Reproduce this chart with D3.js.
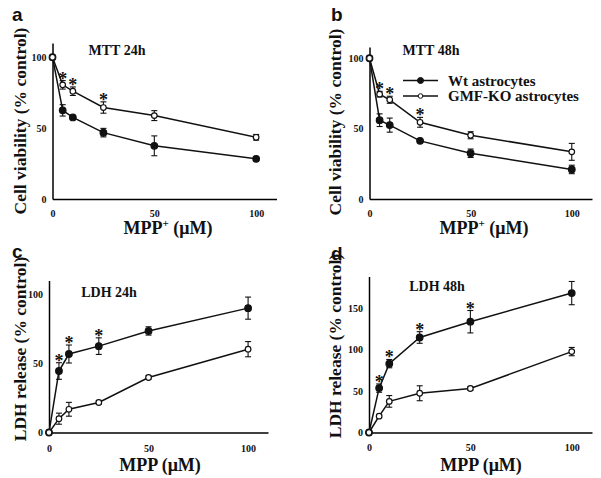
<!DOCTYPE html>
<html>
<head>
<meta charset="utf-8">
<script src="https://cdn.jsdelivr.net/npm/d3@7"></script>
<style>
  html, body { margin: 0; padding: 0; background: #fff; }
  svg { display: block; }
</style>
</head>
<body>
<svg id="chart" width="601" height="478"></svg>
<script>
// ---------- DATA ----------
const doses = [0, 5, 10, 25, 50, 100];
const xTicks = [0, 50, 100];

// Panel a: MTT 24h
const mtt24Wt    = [100, 62.5, 57.5, 46.8, 37.5, 28.3];
const mtt24WtErr = [0, 4, 1.2, 3, 7, 1.2];
const mtt24Ko    = [100, 80.5, 76, 64.5, 58.8, 43.5];
const mtt24KoErr = [0, 3, 3, 4, 3.5, 2];
const mtt24Stars = [5, 10, 25];

// Panel b: MTT 48h
const mtt48Wt    = [100, 56, 52.5, 41.3, 32.5, 21];
const mtt48WtErr = [0, 4.5, 5, 1, 3, 3];
const mtt48Ko    = [100, 74.5, 70.5, 54.5, 45.3, 33.5];
const mtt48KoErr = [0, 2, 2.5, 3.5, 2.5, 6];
const mtt48Stars = [5, 10, 25];

// Panel c: LDH 24h
const ldh24Wt    = [0, 44.5, 56.8, 62.5, 73.5, 90];
const ldh24WtErr = [0, 6, 6.5, 6, 3, 8];
const ldh24Ko    = [0, 10, 16.8, 21.7, 39.8, 60.3];
const ldh24KoErr = [0, 4, 5, 1.2, 1.2, 5.5];
const ldh24Stars = [5, 10, 25];

// Panel d: LDH 48h
const ldh48Wt    = [0, 53.5, 83, 114.5, 133.5, 168];
const ldh48WtErr = [0, 5, 5, 7, 13.5, 14];
const ldh48Ko    = [0, 19.7, 37.5, 47.3, 53, 97.5];
const ldh48KoErr = [0, 2, 7, 9, 2, 5];
const ldh48Stars = [5, 10, 25, 50];

const legendLabels = ["Wt astrocytes", "GMF-KO astrocytes"];

// ---------- LAYOUT ----------
const panels = [
  { letter: "a", title: "MTT 24h", yTitle: "Cell viability (% control)", xTitle: "MPP", sup: true,
    wt: mtt24Wt, wtErr: mtt24WtErr, ko: mtt24Ko, koErr: mtt24KoErr, stars: mtt24Stars, starOn: "ko",
    yTicks: [0, 50, 100], yMax: 110, x0: 52.5, x1: 276.5, y0: 199, y1: 43, xPad: 11,
    letterPos: [12, 21], titlePos: [117, 55], yTitlePos: [20, 121], xTitlePos: [168, 234], legend: false },
  { letter: "b", title: "MTT 48h", yTitle: "Cell viability (% control)", xTitle: "MPP", sup: true,
    wt: mtt48Wt, wtErr: mtt48WtErr, ko: mtt48Ko, koErr: mtt48KoErr, stars: mtt48Stars, starOn: "ko",
    yTicks: [0, 50, 100], yMax: 108, x0: 369.5, x1: 592, y0: 199, y1: 47, xPad: 11,
    letterPos: [331, 21], titlePos: [431, 55], yTitlePos: [335, 122], xTitlePos: [484, 234], legend: true },
  { letter: "c", title: "LDH 24h", yTitle: "LDH release (% control)", xTitle: "MPP", sup: false,
    wt: ldh24Wt, wtErr: ldh24WtErr, ko: ldh24Ko, koErr: ldh24KoErr, stars: ldh24Stars, starOn: "wt",
    yTicks: [0, 50, 100], yMax: 110, x0: 49, x1: 268, y0: 432.5, y1: 280.5, xPad: 12,
    letterPos: [12, 258], titlePos: [109, 297], yTitlePos: [20, 349], xTitlePos: [160, 471], legend: false },
  { letter: "d", title: "LDH 48h", yTitle: "LDH release (% control)", xTitle: "MPP", sup: false,
    wt: ldh48Wt, wtErr: ldh48WtErr, ko: ldh48Ko, koErr: ldh48KoErr, stars: ldh48Stars, starOn: "wt",
    yTicks: [0, 50, 100, 150], yMax: 188, x0: 369, x1: 592, y0: 432.5, y1: 276.5, xPad: 11,
    letterPos: [331, 260], titlePos: [437, 291], yTitlePos: [335, 346], xTitlePos: [481, 471], legend: false }
];

const svg = d3.select("#chart");
const FONT = "'Times New Roman', 'Liberation Serif', 'DejaVu Serif', serif";

panels.forEach(p => {
  const x = d3.scaleLinear().domain([0, 110]).range([p.x0, p.x1]);
  const y = d3.scaleLinear().domain([0, p.yMax]).range([p.y0, p.y1]);
  const g = svg.append("g");

  // axes
  const yAxis = d3.axisLeft(y).tickValues(p.yTicks).tickSize(0).tickPadding(6).tickFormat(d3.format("d"));
  const xAxis = d3.axisBottom(x).tickValues(xTicks).tickSize(0).tickPadding(p.xPad).tickFormat(d3.format("d"));
  const ya = g.append("g").attr("transform", `translate(${p.x0},0)`).call(yAxis);
  const xa = g.append("g").attr("transform", `translate(0,${p.y0})`).call(xAxis);
  [ya, xa].forEach(a => {
    a.attr("font-family", FONT).attr("font-size", 10).attr("font-weight", "bold");
    a.select(".domain").attr("stroke", "#000").attr("stroke-width", 1.5);
    a.selectAll("text").attr("fill", "#111");
  });

  const line = d3.line().x((d, i) => x(doses[i])).y(d => y(d));

  function drawSeries(vals, errs, filled) {
    g.append("path").datum(vals).attr("d", line)
      .attr("fill", "none").attr("stroke", "#111").attr("stroke-width", 1.5);
    const eb = g.append("g").attr("stroke", "#111").attr("stroke-width", 1.1);
    vals.forEach((v, i) => {
      const e = errs[i];
      if (e <= 0) return;
      const cx = x(doses[i]);
      eb.append("line").attr("x1", cx).attr("x2", cx).attr("y1", y(v - e)).attr("y2", y(v + e));
      eb.append("line").attr("x1", cx - 3).attr("x2", cx + 3).attr("y1", y(v - e)).attr("y2", y(v - e));
      eb.append("line").attr("x1", cx - 3).attr("x2", cx + 3).attr("y1", y(v + e)).attr("y2", y(v + e));
    });
    g.append("g").selectAll("circle").data(vals).join("circle")
      .attr("cx", (d, i) => x(doses[i])).attr("cy", d => y(d)).attr("r", filled ? 3.3 : 2.8)
      .attr("fill", filled ? "#111" : "#fff").attr("stroke", "#111").attr("stroke-width", 1.2);
  }
  drawSeries(p.wt, p.wtErr, true);
  drawSeries(p.ko, p.koErr, false);

  // significance stars
  const sv = p.starOn === "ko" ? p.ko : p.wt;
  const se = p.starOn === "ko" ? p.koErr : p.wtErr;
  p.stars.forEach(dose => {
    const i = doses.indexOf(dose);
    g.append("text").attr("x", x(dose)).attr("y", y(sv[i] + se[i]) + 4)
      .attr("text-anchor", "middle").attr("font-family", FONT).attr("font-weight", "bold")
      .attr("font-size", 18).attr("fill", "#111").text("*");
  });

  // panel letter
  svg.append("text").attr("x", p.letterPos[0]).attr("y", p.letterPos[1])
    .attr("font-family", "'Liberation Sans', Arial, sans-serif").attr("font-weight", "bold")
    .attr("font-size", 19).attr("fill", "#111").text(p.letter);

  // panel title
  svg.append("text").attr("x", p.titlePos[0]).attr("y", p.titlePos[1]).attr("text-anchor", "middle")
    .attr("font-family", FONT).attr("font-weight", "bold").attr("font-size", 14).attr("fill", "#111")
    .text(p.title);

  // y title
  svg.append("text").attr("transform", `translate(${p.yTitlePos[0]},${p.yTitlePos[1]}) rotate(-90)`)
    .attr("text-anchor", "middle").attr("dy", "0.35em")
    .attr("font-family", FONT).attr("font-weight", "bold").attr("font-size", 17.5).attr("fill", "#111")
    .text(p.yTitle);

  // x title
  const xt = svg.append("text").attr("x", p.xTitlePos[0]).attr("y", p.xTitlePos[1]).attr("text-anchor", "middle")
    .attr("font-family", FONT).attr("font-weight", "bold").attr("font-size", 18).attr("fill", "#111");
  xt.append("tspan").text(p.xTitle);
  if (p.sup) xt.append("tspan").attr("font-size", 11).attr("dy", -7).text("+");
  xt.append("tspan").attr("dy", p.sup ? 7 : 0).text(" (μM)");

  // legend
  if (p.legend) {
    const lg = svg.append("g");
    legendLabels.forEach((lab, k) => {
      const ly = 80.5 + k * 15.5;
      lg.append("line").attr("x1", 403).attr("x2", 438).attr("y1", ly).attr("y2", ly)
        .attr("stroke", "#111").attr("stroke-width", 1.5);
      lg.append("circle").attr("cx", 420.5).attr("cy", ly).attr("r", k === 0 ? 3 : 2.3)
        .attr("fill", k === 0 ? "#111" : "#fff").attr("stroke", "#111").attr("stroke-width", 1);
      lg.append("text").attr("x", 448).attr("y", ly + 5).attr("font-family", FONT)
        .attr("font-weight", "bold").attr("font-size", 15).attr("fill", "#111").text(lab);
    });
  }
});
</script>
</body>
</html>
